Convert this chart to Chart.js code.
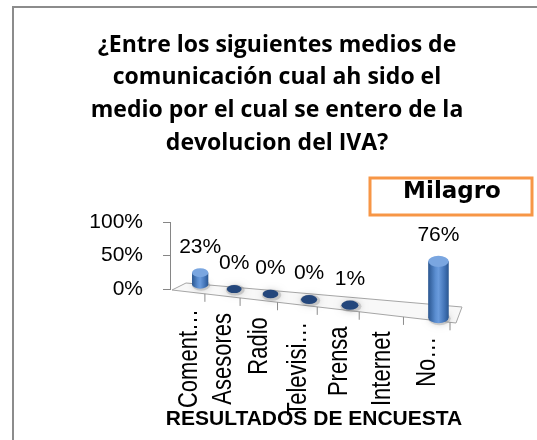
<!DOCTYPE html>
<html><head><meta charset="utf-8">
<script src="https://cdn.jsdelivr.net/npm/chart.js@4.4.1/dist/chart.umd.min.js"></script>
<style>html,body{margin:0;padding:0;background:#fff;}canvas{display:block;}</style>
</head><body>
<canvas id="c" width="537" height="440"></canvas>
<script>
// ---- data ----
const titleLines = ["¿Entre los siguientes medios de", "comunicación cual ah sido el", "medio por el cual se entero de la", "devolucion del IVA?"];
const categories = ["Coment…", "Asesores", "Radio", "Televisi…", "Prensa", "Internet", "No…"];
const seriesName = "Milagro";
const values = [23, 0, 0, 0, 1, null, 76];
const yTicks = [0, 50, 100];
const axisTitle = "RESULTADOS DE ENCUESTA";

// ---- perspective helpers (style only) ----
function proj(chart, px) {
  const a = chart.chartArea;
  const FL = a.left + 14, span = a.right - FL;
  const t = (px - a.left) / (a.right - a.left);
  const q = 0.2;
  const f = t * (1 - q) + q * t * t;
  return { X: FL + span * f, f };
}
function baseY(chart, X) { const a = chart.chartArea; return a.bottom - 7 + 0.14 * (X - a.left - 14); }
function frontY(chart, X) {
  const a = chart.chartArea;
  const x0 = a.left + 2, y0 = a.bottom + 1, x1 = a.right - 6, y1 = a.bottom + 34;
  return y0 + (X - x0) * (y1 - y0) / (x1 - x0);
}

const framePlugin = {
  id: 'frame',
  beforeDraw(chart) {
    const c = chart.ctx;
    c.save();
    c.fillStyle = '#fff'; c.fillRect(0, 0, chart.width, chart.height);
    c.strokeStyle = '#8c8c8c'; c.lineWidth = 2;
    c.beginPath(); c.moveTo(13, chart.height); c.lineTo(13, 7); c.lineTo(chart.width, 7); c.stroke();
    // title
    c.fillStyle = '#000'; c.font = 'bold 23px "Open Sans"';
    c.textAlign = 'center'; c.textBaseline = 'middle';
    titleLines.forEach((t, i) => c.fillText(t, 277, 45 + i * 32.7));
    // legend
    c.strokeStyle = '#F79646'; c.lineWidth = 3;
    c.strokeRect(370, 178, 162, 37);
    c.font = 'bold 23px "DejaVu Sans"';
    c.textBaseline = 'alphabetic';
    c.fillText(seriesName, 452, 198);
    c.restore();
  }
};

const floorPlugin = {
  id: 'floor',
  beforeDatasetsDraw(chart) {
    const c = chart.ctx, a = chart.chartArea;
    const L = a.left, R = a.right, B = a.bottom;
    c.save();
    c.beginPath();
    c.moveTo(L + 16, B - 6); c.lineTo(R, B + 18); c.lineTo(R - 6, B + 34); c.lineTo(L + 2, B + 1); c.closePath();
    c.fillStyle = '#f8f8f8'; c.fill();
    c.strokeStyle = '#a6a6a6'; c.lineWidth = 1; c.stroke();
    // category tick marks on front edge
    const W = R - L, n = categories.length;
    c.strokeStyle = '#8c8c8c';
    for (let j = 1; j <= n; j++) {
      const Xt = proj(chart, L + j * W / n).X - 12;
      const y0 = frontY(chart, Xt);
      c.beginPath(); c.moveTo(Xt, y0); c.lineTo(Xt, y0 + 8); c.stroke();
    }
    c.restore();
  },
  afterDatasetsDraw(chart) {
    const c = chart.ctx;
    const meta = chart.getDatasetMeta(0);
    c.save();
    meta.data.forEach((el, i) => {
      const v = values[i];
      const xs = chart.scales.x.getPixelForValue(i);
      const p = proj(chart, xs);
      const X = p.X;
      // category label (rotated, glyphs widened like the reference)
      const lx = X - 11, top = frontY(chart, lx) + 17;
      c.save();
      c.translate(lx, top); c.rotate(-Math.PI / 2); c.scale(1, 1.28);
      c.fillStyle = '#000'; c.font = '22px "Liberation Sans"';
      c.textAlign = 'right'; c.textBaseline = 'middle';
      c.fillText(categories[i], 0, 0);
      c.restore();
      if (v === null || v === undefined || isNaN(el.y)) return;
      const k = 0.75 + 0.4 * p.f;
      const w = 16 + 5 * p.f, ry = w * 0.27;
      const yb = baseY(chart, X);
      const h = (el.base - el.y) * k;
      const yt = yb - h;
      // shadow
      c.save();
      c.shadowColor = 'rgba(0,0,0,0.45)'; c.shadowBlur = 6;
      c.fillStyle = 'rgba(130,130,130,0.3)';
      c.beginPath(); c.ellipse(X + 1, yb + 1, w / 2 + 1, ry + 1, 0, 0, Math.PI * 2); c.fill();
      c.restore();
      if (h < 0.3) {
        c.fillStyle = '#24477c';
        c.beginPath(); c.ellipse(X, yb, w / 2 - 1, ry - 0.5, 0, 0, Math.PI * 2); c.fill();
      } else {
        const g = c.createLinearGradient(X - w / 2, 0, X + w / 2, 0);
        g.addColorStop(0, '#2a5690'); g.addColorStop(0.35, '#5a8dd0');
        g.addColorStop(0.5, '#6a9bdc'); g.addColorStop(0.8, '#4273b6'); g.addColorStop(1, '#2a5690');
        c.fillStyle = g;
        c.beginPath();
        c.moveTo(X - w / 2, yt);
        c.lineTo(X - w / 2, yb);
        c.ellipse(X, yb, w / 2, ry, 0, Math.PI, 0, true);
        c.lineTo(X + w / 2, yt);
        c.closePath(); c.fill();
        c.fillStyle = h < 3 ? '#4a7cc0' : '#7aa6e0';
        c.beginPath(); c.ellipse(X, yt, w / 2, ry, 0, 0, Math.PI * 2); c.fill();
      }
      // data label
      c.fillStyle = '#000'; c.font = '21px "Liberation Sans"';
      c.textAlign = 'center'; c.textBaseline = 'middle';
      c.fillText(v + '%', X, yt - ry - 21);
    });
    // axis title
    c.fillStyle = '#000'; c.font = 'bold 21px "Liberation Sans"';
    c.textAlign = 'center'; c.textBaseline = 'alphabetic';
    c.fillText(axisTitle, 314, 425);
    c.restore();
  }
};

new Chart(document.getElementById('c').getContext('2d'), {
  type: 'bar',
  data: {
    labels: categories,
    datasets: [{ label: seriesName, data: values, backgroundColor: 'rgba(0,0,0,0)', borderWidth: 0, barPercentage: 0.45, categoryPercentage: 1 }]
  },
  options: {
    responsive: false, animation: false, devicePixelRatio: 1,
    layout: { padding: { left: 0, top: 222, right: 75, bottom: 151 } },
    plugins: { legend: { display: false }, title: { display: false }, tooltip: { enabled: false } },
    scales: {
      x: { display: false },
      y: {
        min: 0, max: 100,
        afterFit: s => { s.width = 170; },
        afterBuildTicks: s => { s.ticks = yTicks.map(v => ({ value: v })); },
        ticks: { callback: v => v + '%', font: { family: 'Liberation Sans', size: 21 }, color: '#000', padding: 20 },
        grid: { display: true, drawOnChartArea: false, drawTicks: true, tickLength: 7, color: '#868686' },
        border: { display: true, color: '#868686' }
      }
    }
  },
  plugins: [framePlugin, floorPlugin]
});
</script>
</body></html>
